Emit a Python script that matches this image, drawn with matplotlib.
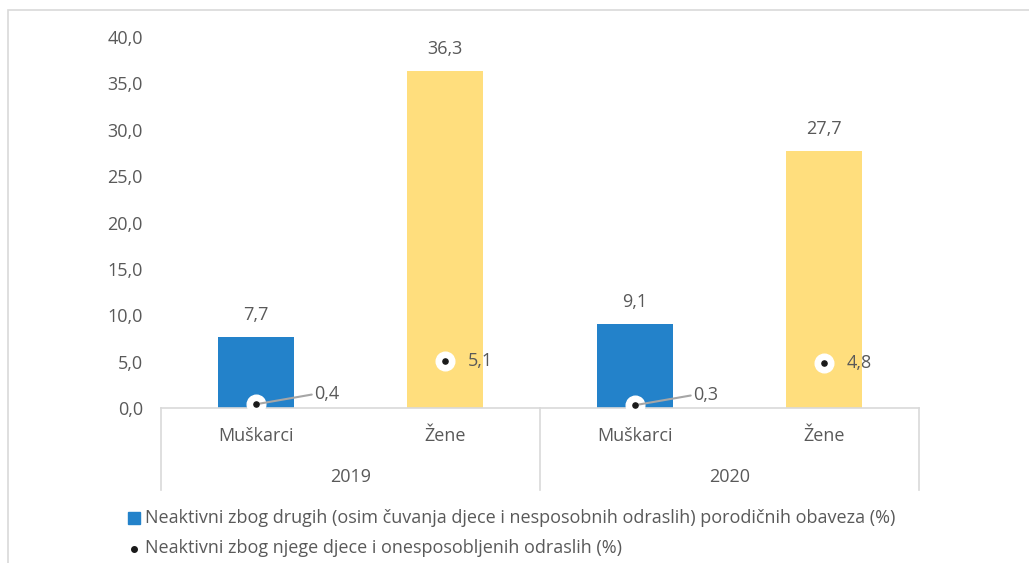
import numpy as np
import matplotlib.pyplot as plt
from matplotlib.patches import Rectangle
from matplotlib.lines import Line2D

years = ["2019", "2020"]
genders = ["Muškarci", "Žene"]
other_duties = [7.7, 36.3, 9.1, 27.7]      # bars
care_duties = [0.4, 5.1, 0.3, 4.8]         # points
bar_colors = ["#2382CA", "#FFDE7D", "#2382CA", "#FFDE7D"]
yticks = [0, 5, 10, 15, 20, 25, 30, 35, 40]

txt = "#595959"
fs = 13
plt.rcParams["font.family"] = ["Open Sans", "DejaVu Sans"]

fig = plt.figure(figsize=(10.29, 5.63), dpi=100)
ax = fig.add_axes([161 / 1029, 1 - 408 / 563, 758 / 1029, 371 / 563])

x = np.arange(4)
ax.bar(x, other_duties, width=0.4, color=bar_colors, zorder=2)
ax.set_xlim(-0.5, 3.5)
ax.set_ylim(0, 40)

for xi, v in zip(x, other_duties):
    ax.text(xi, v + 1.4, f"{v:.1f}".replace(".", ","), ha="center", va="bottom",
            fontsize=fs, color=txt)

# points
ax.scatter(x, care_duties, s=180, color="white", zorder=3, clip_on=False)
ax.scatter(x, care_duties, s=14, color="#1a1a1a", zorder=4, clip_on=False)
for xi, v in zip(x, care_duties):
    lab = f"{v:.1f}".replace(".", ",")
    if v < 1:
        ax.annotate(lab, xy=(xi, v), xytext=(xi + 0.31, v + 1.1), ha="left", va="center",
                    fontsize=fs, color=txt,
                    arrowprops=dict(arrowstyle="-", color="#A6A6A6", lw=1.5,
                                    shrinkA=0, shrinkB=0, relpos=(0, 0.5)))
    else:
        ax.text(xi + 0.12, v, lab, ha="left", va="center", fontsize=fs, color=txt)

ax.set_yticks(yticks)
ax.set_yticklabels([f"{t:.1f}".replace(".", ",") for t in yticks], color=txt, fontsize=fs)
ax.tick_params(axis="y", length=0, pad=13)
ax.set_xticks([])
for s in ["top", "right", "left"]:
    ax.spines[s].set_visible(False)
ax.spines["bottom"].set_color("#D9D9D9")
ax.spines["bottom"].set_linewidth(1.2)

# two-level category axis
tr = ax.get_xaxis_transform()
for xi, g in zip(x, genders * 2):
    ax.text(xi, -0.075, g, transform=tr, ha="center", va="center", fontsize=fs, color=txt)
for i, yr in enumerate(years):
    ax.text(2 * i + 0.5, -0.185, yr, transform=tr, ha="center", va="center", fontsize=fs, color=txt)
for xs in [-0.5, 1.5, 3.5]:
    ax.plot([xs, xs], [0, -0.22], transform=tr, color="#D9D9D9", lw=1.2, clip_on=False)

# legend
fig.patches.append(Rectangle((128 / 1029, 1 - 524 / 563), 12 / 1029, 12 / 563,
                             transform=fig.transFigure, color="#2382CA"))
fig.text(145 / 1029, 1 - 518 / 563, "Neaktivni zbog drugih (osim čuvanja djece i nesposobnih odraslih) porodičnih obaveza (%)",
         ha="left", va="center", fontsize=fs, color=txt)
fig.lines.append(Line2D([134 / 1029], [1 - 549 / 563], marker="o", ms=4, color="#1a1a1a",
                        transform=fig.transFigure))
fig.text(145 / 1029, 1 - 548 / 563, "Neaktivni zbog njege djece i onesposobljenih odraslih (%)",
         ha="left", va="center", fontsize=fs, color=txt)

# outer frame
fig.patches.append(Rectangle((8 / 1029, -0.05), 1.1, 1 - 10 / 563 + 0.05, transform=fig.transFigure,
                             fill=False, edgecolor="#D9D9D9", lw=1.2))

fig.savefig("out.png", dpi=100)
